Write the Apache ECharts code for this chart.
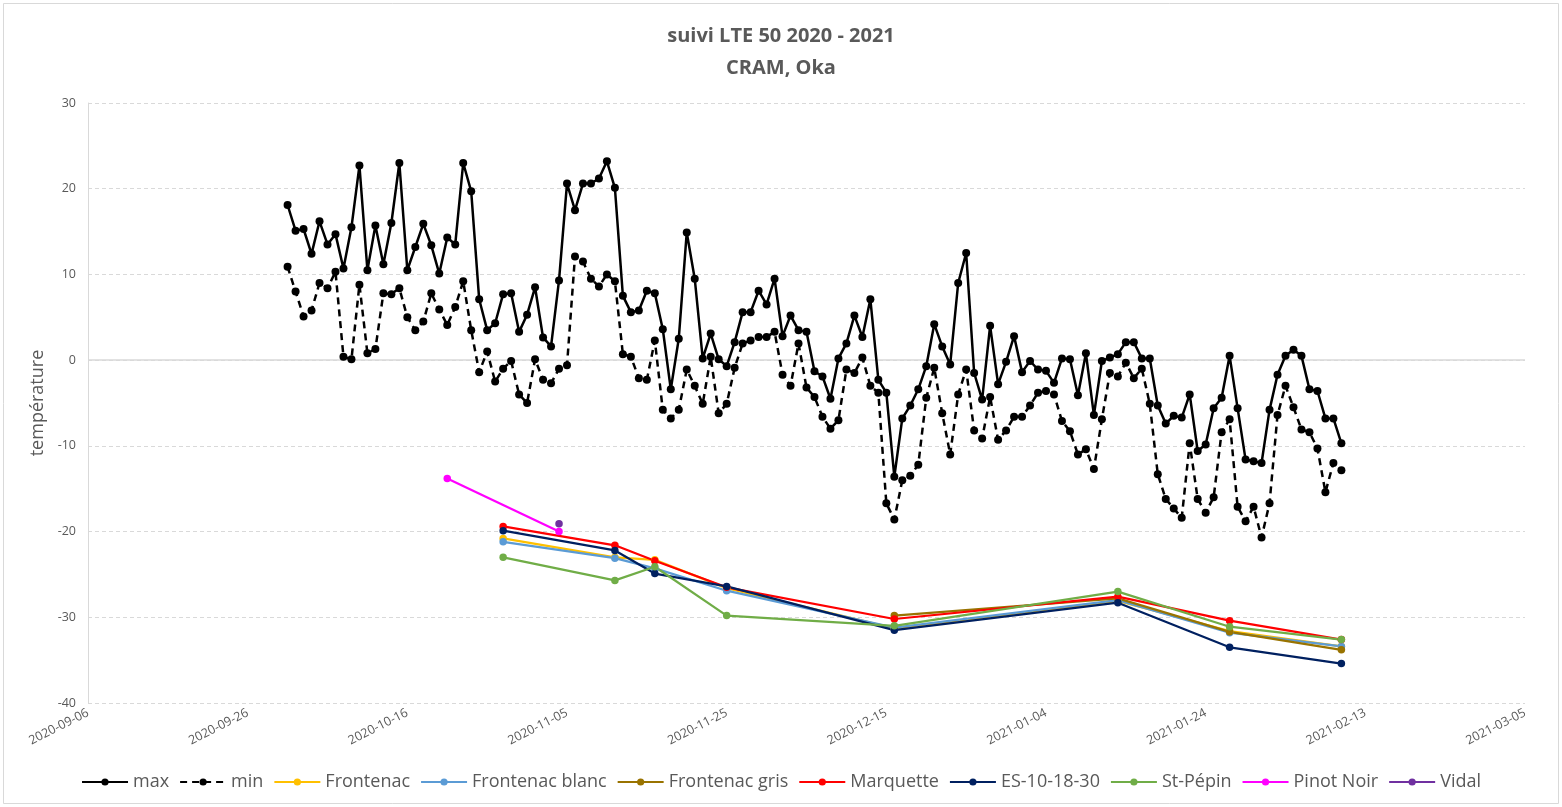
<!DOCTYPE html>
<html>
<head>
<meta charset="utf-8">
<script src="https://cdn.jsdelivr.net/npm/echarts@6/dist/echarts.min.js"></script>
<style>
html,body{margin:0;padding:0;background:#fff;}
#c{width:1562px;height:807px;}
</style>
</head>
<body>
<div id="c"></div>
<script>
// ---- data ----
const axisStart = '2020-09-06';
const axisEnd = '2021-03-05';
const dailyStart = '2020-10-01';

const maxTemp = [18.1,15.1,15.3,12.4,16.2,13.5,14.7,10.7,15.5,22.7,10.5,15.7,11.2,16.0,23.0,10.5,13.2,15.9,13.4,10.1,
14.3,13.5,23.0,19.7,7.1,3.5,4.3,7.7,7.8,3.3,5.3,8.5,2.65,1.6,9.3,20.6,17.5,20.6,20.6,21.2,
23.2,20.1,7.5,5.6,5.8,8.1,7.8,3.6,-3.4,2.5,14.9,9.5,0.2,3.1,0.1,-0.7,2.1,5.6,5.6,8.1,
6.5,9.5,2.8,5.2,3.5,3.3,-1.3,-1.9,-4.5,0.2,1.95,5.2,2.7,7.1,-2.3,-3.8,-13.6,-6.8,-5.3,-3.4,
-0.7,4.2,1.6,-0.5,9.0,12.5,-1.5,-4.6,4.0,-2.8,-0.2,2.8,-1.4,-0.1,-1.1,-1.25,-2.65,0.2,0.1,-4.1,
0.8,-6.4,-0.1,0.3,0.7,2.1,2.1,0.2,0.2,-5.3,-7.4,-6.5,-6.7,-4.0,-10.6,-9.85,-5.6,-4.4,0.5,-5.6,
-11.6,-11.8,-12.0,-5.8,-1.7,0.5,1.2,0.5,-3.4,-3.6,-6.8,-6.8,-9.7];

const minTemp = [10.9,8.0,5.1,5.8,9.0,8.4,10.3,0.4,0.1,8.8,0.8,1.3,7.8,7.7,8.4,5.0,3.5,4.5,7.8,5.9,
4.1,6.2,9.2,3.5,-1.4,1.0,-2.5,-1.0,-0.1,-4.0,-5.0,0.1,-2.3,-2.7,-1.0,-0.6,12.1,11.5,9.5,8.6,
10.0,9.2,0.7,0.4,-2.1,-2.3,2.3,-5.8,-6.8,-5.8,-1.1,-3.0,-5.1,0.4,-6.2,-5.1,-0.9,1.95,2.3,2.7,
2.7,3.3,-1.7,-3.0,1.95,-3.2,-4.3,-6.6,-8.0,-7.0,-1.1,-1.5,0.3,-3.0,-3.8,-16.7,-18.6,-14.0,-13.5,-12.2,
-4.4,-0.9,-6.2,-11.0,-4.0,-1.1,-8.2,-9.15,-4.3,-9.3,-8.2,-6.6,-6.6,-5.3,-3.8,-3.6,-4.0,-7.1,-8.3,-11.0,
-10.4,-12.7,-6.9,-1.5,-1.9,-0.3,-2.1,-1.0,-5.1,-13.3,-16.2,-17.3,-18.4,-9.7,-16.2,-17.8,-16.0,-8.4,-6.9,-17.1,
-18.8,-17.1,-20.7,-16.7,-6.4,-3.0,-5.5,-8.1,-8.4,-10.3,-15.4,-12.0,-12.85];

const sampleDates = ['2020-10-28','2020-11-11','2020-11-16','2020-11-25','2020-12-16','2021-01-13','2021-01-27','2021-02-10'];
const frontenac      = [-20.8,-23.0,-23.3,-26.6,-31.3,-28.1,-31.6,-33.4];
const frontenacBlanc = [-21.2,-23.1,-24.3,-26.9,-31.2,-28.0,-31.8,-33.4];
const frontenacGris  = [null,null,null,null,-29.8,-27.8,-31.7,-33.8];
const marquette      = [-19.4,-21.6,-23.4,-26.5,-30.2,-27.6,-30.4,-32.6];
const es101830       = [-19.9,-22.2,-24.9,-26.4,-31.5,-28.3,-33.5,-35.4];
const stPepin        = [-23.0,-25.7,-24.1,-29.8,-31.0,-27.0,-31.1,-32.6];

const pinotDates = ['2020-10-21','2020-11-04'];
const pinotNoir  = [-13.8,-20.0];
const vidalDates = ['2020-11-04'];
const vidal      = [-19.1];

const yTicks = {min:-40, max:30, interval:10};

// ---- helpers ----
const DAY = 86400000;
function toMs(s){const p=s.split('-').map(Number);return Date.UTC(p[0],p[1]-1,p[2]);}
const base = toMs(axisStart);
function dayOf(s){return Math.round((toMs(s)-base)/DAY);}
function fmt(d){const t=new Date(base+d*DAY);const m=String(t.getUTCMonth()+1).padStart(2,'0');const dd=String(t.getUTCDate()).padStart(2,'0');return t.getUTCFullYear()+'-'+m+'-'+dd;}
const d0 = dayOf(dailyStart);
function pairs(dates, vals){return vals.map((v,i)=>[dayOf(dates[i]), v]);}

const grey='#595959';
function varSeries(name,color,dates,vals){
  return {name:name,type:'line',data:pairs(dates,vals),symbol:'circle',symbolSize:7.5,
    lineStyle:{color:color,width:2.25},itemStyle:{color:color},connectNulls:false,z:3};
}

const chart = echarts.init(document.getElementById('c'));
chart.setOption({
  animation:false,
  backgroundColor:'#fff',
  title:{text:'suivi LTE 50 2020 - 2021\nCRAM, Oka',left:'center',top:15,
    textStyle:{color:grey,fontSize:20,fontWeight:'bold',fontFamily:'Open Sans',lineHeight:32}},
  graphic:[{type:'rect',shape:{x:3.5,y:3.5,width:1555,height:800},style:{fill:'none',stroke:'#d9d9d9',lineWidth:1},silent:true}],
  grid:{left:88,right:37,top:103,bottom:104},
  legend:{bottom:11,left:'center',itemWidth:46,itemHeight:9,itemGap:10,
    textStyle:{color:grey,fontSize:18,fontFamily:'Open Sans'},
    data:['max','min','Frontenac','Frontenac blanc','Frontenac gris','Marquette','ES-10-18-30','St-Pépin','Pinot Noir','Vidal']},
  xAxis:{type:'value',min:dayOf(axisStart),max:dayOf(axisEnd),interval:20,
    axisLine:{show:false},axisTick:{show:false},splitLine:{show:false},
    axisLabel:{formatter:fmt,rotate:27,color:grey,fontSize:12.5,fontFamily:'Open Sans',margin:9}},
  yAxis:{type:'value',min:yTicks.min,max:yTicks.max,interval:yTicks.interval,
    name:'température',nameLocation:'middle',nameGap:40,
    nameTextStyle:{color:grey,fontSize:18,fontFamily:'Open Sans'},
    axisLine:{show:true,lineStyle:{color:'#d9d9d9'}},axisTick:{show:false},
    axisLabel:{color:grey,fontSize:12.5,fontFamily:'Open Sans',margin:12},
    splitLine:{lineStyle:{color:'#d9d9d9',type:[4,3]}}},
  series:[
    {name:'max',type:'line',data:maxTemp.map((v,i)=>[d0+i,v]),symbol:'circle',symbolSize:8,
      lineStyle:{color:'#000',width:2.5},itemStyle:{color:'#000'},z:2,
      markLine:{silent:true,symbol:'none',label:{show:false},lineStyle:{color:'#d9d9d9',type:'solid',width:1.5},data:[{yAxis:0}],z:1}},
    {name:'min',type:'line',data:minTemp.map((v,i)=>[d0+i,v]),symbol:'circle',symbolSize:8,
      lineStyle:{color:'#000',width:2.5,type:[7,5]},itemStyle:{color:'#000'},z:2},
    varSeries('Frontenac','#FFC000',sampleDates,frontenac),
    varSeries('Frontenac blanc','#5B9BD5',sampleDates,frontenacBlanc),
    varSeries('Frontenac gris','#997300',sampleDates,frontenacGris),
    varSeries('Marquette','#FF0000',sampleDates,marquette),
    varSeries('ES-10-18-30','#002060',sampleDates,es101830),
    varSeries('St-Pépin','#70AD47',sampleDates,stPepin),
    varSeries('Pinot Noir','#FF00FF',pinotDates,pinotNoir),
    varSeries('Vidal','#7030A0',vidalDates,vidal)
  ]
});
</script>
</body>
</html>
